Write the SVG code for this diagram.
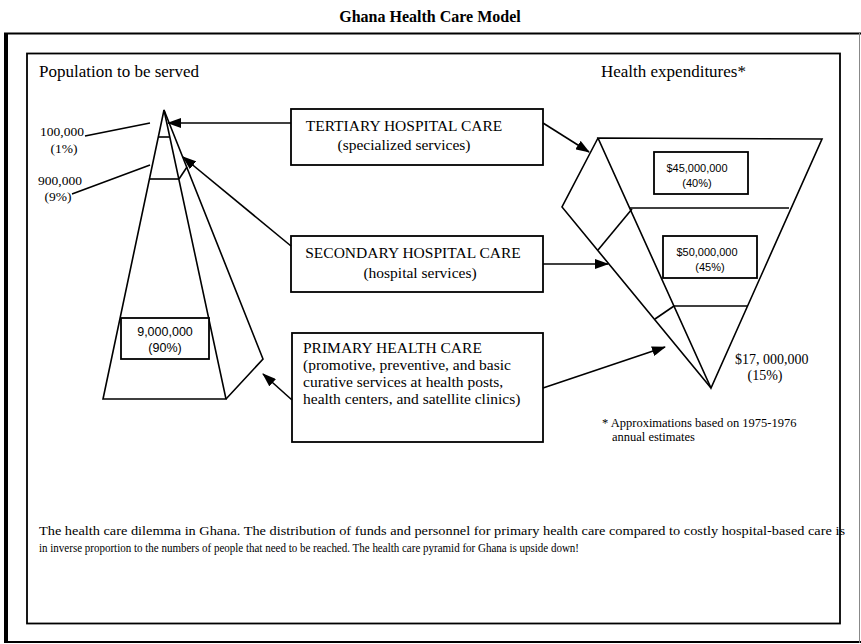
<svg xmlns="http://www.w3.org/2000/svg" width="861" height="644" viewBox="0 0 861 644">
<defs>
<style>
.serif{font-family:"Liberation Serif","Times New Roman",serif;fill:#000}
.sans{font-family:"Liberation Sans",Arial,sans-serif;fill:#000}
.ln{fill:none;stroke:#000;stroke-width:1.6;stroke-linejoin:miter}
.box{fill:#fff;stroke:#000;stroke-width:1.8}
.con{fill:none;stroke:#000;stroke-width:1.6}
</style>
<marker id="arr" viewBox="0 0 14 10" refX="13" refY="5" markerWidth="14" markerHeight="10" markerUnits="userSpaceOnUse" orient="auto">
<path d="M0,0 L14,5 L0,10 Z" fill="#000"/>
</marker>
</defs>
<rect width="861" height="644" fill="#fff"/>
<text class="serif" x="430" y="22" font-size="16" font-weight="bold" text-anchor="middle">Ghana Health Care Model</text>
<g id="frame">
<line x1="6" y1="33" x2="6" y2="643" stroke="#000" stroke-width="4"/>
<line x1="4" y1="33.5" x2="861" y2="33.5" stroke="#000" stroke-width="1.8"/>
<line x1="4" y1="642" x2="861" y2="642" stroke="#000" stroke-width="1.8"/>
<line x1="859.5" y1="33" x2="859.5" y2="643" stroke="#888" stroke-width="1"/>
<rect x="27" y="53.5" width="813" height="570" fill="none" stroke="#000" stroke-width="1.8"/>
</g>
<text class="serif" x="39" y="77" font-size="17">Population to be served</text>
<text class="serif" x="601" y="77" font-size="17">Health expenditures*</text>
<g id="population-pyramid">
<path class="ln" d="M164,110 L103,399 L226,399 Z"/>
<path class="ln" d="M164,110 L263,359 L226,399"/>
<line class="ln" x1="158.5" y1="137" x2="169.8" y2="137"/>
<line class="ln" x1="149.5" y1="179" x2="179" y2="179"/>
<line class="ln" x1="179" y1="179" x2="187" y2="167"/>
<rect class="box" x="121" y="318" width="88" height="41" stroke-width="1.6"/>
<text class="sans" x="165" y="336" font-size="12.5" text-anchor="middle">9,000,000</text>
<text class="sans" x="165" y="352" font-size="12.5" text-anchor="middle">(90%)</text>
</g>
<g id="pop-labels">
<text class="serif" x="40" y="136" font-size="13.5">100,000</text>
<text class="serif" x="64" y="153" font-size="13.5" text-anchor="middle">(1%)</text>
<line class="ln" x1="85" y1="136" x2="150" y2="123"/>
<text class="serif" x="38" y="185" font-size="13.5">900,000</text>
<text class="serif" x="58" y="201" font-size="13.5" text-anchor="middle">(9%)</text>
<line class="ln" x1="72" y1="194" x2="150" y2="165"/>
</g>
<g id="tertiary">
<rect class="box" x="291" y="109" width="252" height="56"/>
<text class="serif" x="404" y="131" font-size="15.5" text-anchor="middle">TERTIARY HOSPITAL CARE</text>
<text class="serif" x="404" y="150" font-size="15.5" text-anchor="middle">(specialized services)</text>
</g>
<g id="secondary">
<rect class="box" x="291" y="236" width="252" height="56"/>
<text class="serif" x="413" y="258" font-size="15.5" text-anchor="middle">SECONDARY HOSPITAL CARE</text>
<text class="serif" x="420" y="278" font-size="15.5" text-anchor="middle">(hospital services)</text>
</g>
<g id="primary">
<rect class="box" x="292" y="333" width="251" height="109"/>
<text class="serif" x="303" y="353" font-size="15.5">PRIMARY HEALTH CARE</text>
<text class="serif" x="303" y="370" font-size="15.5">(promotive, preventive, and basic</text>
<text class="serif" x="303" y="387" font-size="15.5">curative services at health posts,</text>
<text class="serif" x="303" y="404" font-size="15.5">health centers, and satellite clinics)</text>
</g>
<g id="expenditure-pyramid">
<path class="ln" d="M598,138 L822,139 L711,388 Z"/>
<path class="ln" d="M598,138 L562,207 L711,388"/>
<line class="ln" x1="630" y1="208" x2="789" y2="208"/>
<line class="ln" x1="632" y1="209" x2="598" y2="250"/>
<line class="ln" x1="674" y1="306" x2="748" y2="306"/>
<line class="ln" x1="674" y1="306" x2="655" y2="319"/>
<rect class="box" x="654" y="152" width="94" height="42" stroke-width="1.6"/>
<text class="sans" x="697" y="172" font-size="11" text-anchor="middle">$45,000,000</text>
<text class="sans" x="697" y="187" font-size="11" text-anchor="middle">(40%)</text>
<rect class="box" x="663" y="236" width="94" height="42" stroke-width="1.6"/>
<text class="sans" x="707" y="256" font-size="11" text-anchor="middle">$50,000,000</text>
<text class="sans" x="710" y="271" font-size="11" text-anchor="middle">(45%)</text>
<text class="serif" x="735" y="364" font-size="14">$17, 000,000</text>
<text class="serif" x="765" y="380" font-size="14" text-anchor="middle">(15%)</text>
</g>
<g id="footnote">
<text class="serif" x="602" y="427" font-size="12.5">* Approximations based on 1975-1976</text>
<text class="serif" x="612" y="441" font-size="12.5">annual estimates</text>
</g>
<g id="connectors">
<line class="con" x1="291" y1="123" x2="168" y2="123" marker-end="url(#arr)"/>
<line class="con" x1="291" y1="246" x2="183" y2="157" marker-end="url(#arr)"/>
<line class="con" x1="292" y1="400" x2="263" y2="374" marker-end="url(#arr)"/>
<line class="con" x1="543" y1="123" x2="589" y2="152" marker-end="url(#arr)"/>
<line class="con" x1="543" y1="264" x2="608" y2="264" marker-end="url(#arr)"/>
<line class="con" x1="543" y1="388" x2="665" y2="347" marker-end="url(#arr)"/>
</g>
<g id="caption">
<text class="serif" x="39" y="535" font-size="13.5" textLength="806" lengthAdjust="spacingAndGlyphs">The health care dilemma in Ghana. The distribution of funds and personnel for primary health care compared to costly hospital-based care is</text>
<text class="serif" x="39" y="552" font-size="13.5" textLength="540" lengthAdjust="spacingAndGlyphs">in inverse proportion to the numbers of people that need to be reached.  The health care pyramid for Ghana is upside down!</text>
</g>
</svg>
